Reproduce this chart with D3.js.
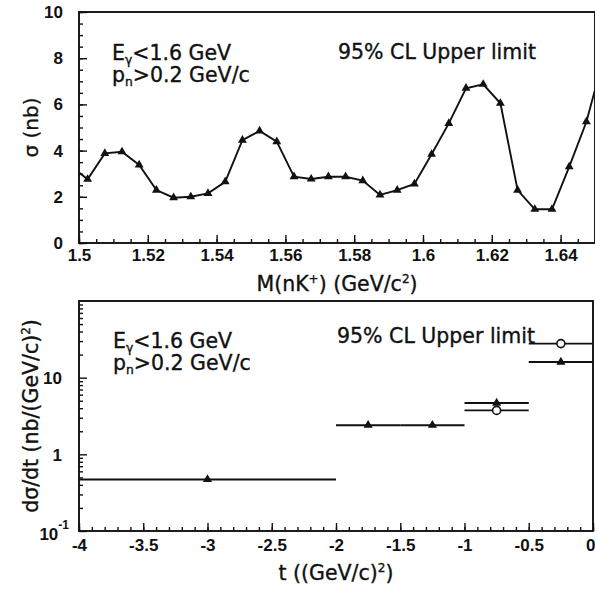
<!DOCTYPE html>
<html>
<head>
<meta charset="utf-8">
<script src="https://cdn.jsdelivr.net/npm/d3@7"></script>
<style>
  html, body { margin: 0; padding: 0; background: #fff; }
  svg { display: block; }
  text { font-family: "DejaVu Sans", "Liberation Sans", sans-serif; fill: #111; }
  .lbl { stroke: #111; stroke-width: 0.35px; }
</style>
</head>
<body>
<div id="chart"></div>
<script>
// ---------- Data: upper panel, sigma upper limit vs M(nK+) ----------
const massBins = [1.4975, 1.5025, 1.5075, 1.5125, 1.5175, 1.5225, 1.5275, 1.5325, 1.5375, 1.5425,
                  1.5475, 1.5525, 1.5575, 1.5625, 1.5675, 1.5725, 1.5775, 1.5825, 1.5875, 1.5925,
                  1.5975, 1.6025, 1.6075, 1.6125, 1.6175, 1.6225, 1.6275, 1.6325, 1.6375, 1.6425,
                  1.6475, 1.6525];
const sigmaUL  = [3.35, 2.76, 3.88, 3.95, 3.38, 2.29, 1.96, 2.00, 2.15, 2.65,
                  4.45, 4.85, 4.39, 2.87, 2.77, 2.87, 2.87, 2.70, 2.08, 2.29,
                  2.56, 3.84, 5.18, 6.70, 6.87, 6.05, 2.29, 1.46, 1.46, 3.30,
                  5.25, 8.00];
const massTicks  = [1.5, 1.52, 1.54, 1.56, 1.58, 1.6, 1.62, 1.64];
const massLabels = ["1.5", "1.52", "1.54", "1.56", "1.58", "1.6", "1.62", "1.64"];
const sigmaTicks = [0, 2, 4, 6, 8, 10];
const sigmaLabels = ["0", "2", "4", "6", "8", "10"];

// ---------- Data: lower panel, dsigma/dt upper limit vs t ----------
const triT  = [-3, -1.75, -1.25, -0.75, -0.25];
const triLo = [-4, -2, -1.5, -1, -0.5];
const triHi = [-2, -1.5, -1, -0.5, 0];
const triV  = [0.47, 2.40, 2.40, 4.67, 16.0];
const circT  = [-0.75, -0.25];
const circLo = [-1, -0.5];
const circHi = [-0.5, 0];
const circV  = [3.74, 27.8];
const tTicks  = [-4, -3.5, -3, -2.5, -2, -1.5, -1, -0.5, 0];
const tLabels = ["-4", "-3.5", "-3", "-2.5", "-2", "-1.5", "-1", "-0.5", "0"];
const dsTicks = [0.1, 1, 10];

// ---------- Layout ----------
const W = 595, H = 590;
const svg = d3.select("#chart").append("svg").attr("width", W).attr("height", H);

const pTop = { left: 79, right: 595, top: 12, bottom: 243 };
const pBot = { left: 79, right: 593, top: 301, bottom: 531 };

const x1 = d3.scaleLinear().domain([1.5, 1.65]).range([pTop.left, pTop.right]);
const y1 = d3.scaleLinear().domain([0, 10]).range([pTop.bottom, pTop.top]);
const x2 = d3.scaleLinear().domain([-4, 0]).range([pBot.left, pBot.right]);
const y2 = d3.scaleLog().domain([0.1, 100]).range([pBot.bottom, pBot.top]);

const tickFont = "bold 17px 'Liberation Sans', Arial, sans-serif";

function styleAxis(g) {
  g.select(".domain").remove();
  g.selectAll(".tick line").attr("stroke", "#111").attr("stroke-width", 1.4);
  g.selectAll(".tick text").style("font", tickFont).attr("fill", "#111");
}

// ===== Upper panel =====
const defs = svg.append("defs");
defs.append("clipPath").attr("id", "clipTop").append("rect")
  .attr("x", pTop.left).attr("y", pTop.top)
  .attr("width", pTop.right - pTop.left).attr("height", pTop.bottom - pTop.top);

// minor ticks
svg.append("g").attr("transform", `translate(0,${pTop.bottom})`)
  .call(d3.axisBottom(x1).tickValues(d3.range(1.5, 1.6501, 0.005)).tickSize(-4).tickFormat(""))
  .call(styleAxis);
svg.append("g").attr("transform", `translate(${pTop.left},0)`)
  .call(d3.axisLeft(y1).tickValues(d3.range(0, 10.01, 0.5)).tickSize(-4).tickFormat(""))
  .call(styleAxis);
// major ticks
svg.append("g").attr("transform", `translate(0,${pTop.bottom})`)
  .call(d3.axisBottom(x1).tickValues(massTicks).tickSize(-8).tickPadding(6)
        .tickFormat((d, i) => massLabels[i]))
  .call(styleAxis);
svg.append("g").attr("transform", `translate(${pTop.left},0)`)
  .call(d3.axisLeft(y1).tickValues(sigmaTicks).tickSize(-8).tickPadding(16)
        .tickFormat((d, i) => sigmaLabels[i]))
  .call(styleAxis);

// frame
svg.append("rect").attr("x", pTop.left).attr("y", pTop.top)
  .attr("width", pTop.right - pTop.left).attr("height", pTop.bottom - pTop.top)
  .attr("fill", "none").attr("stroke", "#111").attr("stroke-width", 1.9);

const massData = massBins.map((m, i) => ({ m, s: sigmaUL[i] }));
const plotTop = svg.append("g").attr("clip-path", "url(#clipTop)");
plotTop.append("path").datum(massData)
  .attr("fill", "none").attr("stroke", "#111").attr("stroke-width", 1.9)
  .attr("d", d3.line().x(d => x1(d.m)).y(d => y1(d.s)));
plotTop.selectAll("path.tri").data(massData).join("path").attr("class", "tri")
  .attr("transform", d => `translate(${x1(d.m)},${y1(d.s)})`)
  .attr("d", d3.symbol().type(d3.symbolTriangle).size(34))
  .attr("fill", "#111");

// annotations
function cond(g, x, y1b, y2b, size) {
  const t1 = g.append("text").attr("class", "lbl").attr("x", x).attr("y", y1b).style("font-size", size + "px");
  t1.append("tspan").text("E");
  t1.append("tspan").attr("dy", 4).style("font-size", (size * 0.6) + "px").text("γ");
  t1.append("tspan").attr("dy", -4).text("<1.6 GeV");
  const t2 = g.append("text").attr("class", "lbl").attr("x", x).attr("y", y2b).style("font-size", size + "px");
  t2.append("tspan").text("p");
  t2.append("tspan").attr("dy", 4).style("font-size", (size * 0.6) + "px").text("n");
  t2.append("tspan").attr("dy", -4).text(">0.2 GeV/c");
}
cond(svg, 112, 60, 82, 20.5);
svg.append("text").attr("class", "lbl").attr("x", 338).attr("y", 59).style("font-size", "20.5px").text("95% CL Upper limit");

// axis titles
svg.append("text").attr("class", "lbl").attr("transform", `translate(38,${(pTop.top + pTop.bottom) / 2}) rotate(-90)`)
  .attr("text-anchor", "middle").style("font-size", "20px").text("σ (nb)");
const xt1 = svg.append("text").attr("class", "lbl").attr("x", (pTop.left + pTop.right) / 2).attr("y", 291)
  .attr("text-anchor", "middle").style("font-size", "20.5px");
xt1.append("tspan").text("M(nK");
xt1.append("tspan").attr("dy", -8).style("font-size", "12px").text("+");
xt1.append("tspan").attr("dy", 8).text(") (GeV/c");
xt1.append("tspan").attr("dy", -8).style("font-size", "12px").text("2");
xt1.append("tspan").attr("dy", 8).text(")");

// ===== Lower panel =====
svg.append("g").attr("transform", `translate(0,${pBot.bottom})`)
  .call(d3.axisBottom(x2).tickValues(d3.range(-4, 0.001, 0.1)).tickSize(-4).tickFormat(""))
  .call(styleAxis);
const logMinor = [];
[0.1, 1, 10].forEach(dec => { for (let k = 2; k <= 9; k++) logMinor.push(dec * k); });
svg.append("g").attr("transform", `translate(${pBot.left},0)`)
  .call(d3.axisLeft(y2).tickValues(logMinor).tickSize(-4).tickFormat(""))
  .call(styleAxis);
svg.append("g").attr("transform", `translate(0,${pBot.bottom})`)
  .call(d3.axisBottom(x2).tickValues(tTicks).tickSize(-8).tickPadding(8)
        .tickFormat((d, i) => tLabels[i]))
  .call(styleAxis)
  .call(g => g.selectAll(".tick text").filter(d => d === 0)
        .attr("text-anchor", "end").attr("x", 2));
const yAx2 = svg.append("g").attr("transform", `translate(${pBot.left},0)`)
  .call(d3.axisLeft(y2).tickValues(dsTicks).tickSize(-8).tickPadding(17).tickFormat(""))
  .call(styleAxis);
yAx2.selectAll(".tick").each(function (d) {
  const t = d3.select(this).append("text").attr("x", -17).attr("dy", "0.35em")
    .attr("text-anchor", "end").style("font", tickFont).attr("fill", "#111");
  if (d === 0.1) {
    t.attr("x", -10).attr("dy", "0.5em");
    t.append("tspan").text("10");
    t.append("tspan").attr("dy", -11).style("font-size", "12px").text("-1");
  } else {
    t.text(d3.format("~g")(d));
  }
});

svg.append("rect").attr("x", pBot.left).attr("y", pBot.top)
  .attr("width", pBot.right - pBot.left).attr("height", pBot.bottom - pBot.top)
  .attr("fill", "none").attr("stroke", "#111").attr("stroke-width", 1.9);

const triData = triT.map((t, i) => ({ t, lo: triLo[i], hi: triHi[i], v: triV[i] }));
const circData = circT.map((t, i) => ({ t, lo: circLo[i], hi: circHi[i], v: circV[i] }));
const plotBot = svg.append("g");
plotBot.selectAll("line.tbar").data(triData).join("line").attr("class", "tbar")
  .attr("x1", d => x2(d.lo)).attr("x2", d => x2(d.hi))
  .attr("y1", d => y2(d.v)).attr("y2", d => y2(d.v))
  .attr("stroke", "#111").attr("stroke-width", 1.9);
plotBot.selectAll("line.cbar").data(circData).join("line").attr("class", "cbar")
  .attr("x1", d => x2(d.lo)).attr("x2", d => x2(d.hi))
  .attr("y1", d => y2(d.v)).attr("y2", d => y2(d.v))
  .attr("stroke", "#111").attr("stroke-width", 1.9);
plotBot.selectAll("circle").data(circData).join("circle")
  .attr("cx", d => x2(d.t)).attr("cy", d => y2(d.v)).attr("r", 4)
  .attr("fill", "#fff").attr("stroke", "#111").attr("stroke-width", 1.6);
plotBot.selectAll("path.tri").data(triData).join("path").attr("class", "tri")
  .attr("transform", d => `translate(${x2(d.t)},${y2(d.v)})`)
  .attr("d", d3.symbol().type(d3.symbolTriangle).size(36))
  .attr("fill", "#111");

cond(svg, 113, 348, 370, 20.5);
svg.append("text").attr("class", "lbl").attr("x", 337).attr("y", 343).style("font-size", "20.5px").text("95% CL Upper limit");

svg.append("text").attr("class", "lbl").attr("transform", `translate(38,${(pBot.top + pBot.bottom) / 2}) rotate(-90)`)
  .attr("text-anchor", "middle").style("font-size", "20.5px")
  .call(t => {
    t.append("tspan").text("dσ/dt (nb/(GeV/c)");
    t.append("tspan").attr("dy", -8).style("font-size", "12px").text("2");
    t.append("tspan").attr("dy", 8).text(")");
  });
const xt2 = svg.append("text").attr("class", "lbl").attr("x", (pBot.left + pBot.right) / 2).attr("y", 580)
  .attr("text-anchor", "middle").style("font-size", "20.5px");
xt2.append("tspan").text("t ((GeV/c)");
xt2.append("tspan").attr("dy", -8).style("font-size", "12px").text("2");
xt2.append("tspan").attr("dy", 8).text(")");
</script>
</body>
</html>
